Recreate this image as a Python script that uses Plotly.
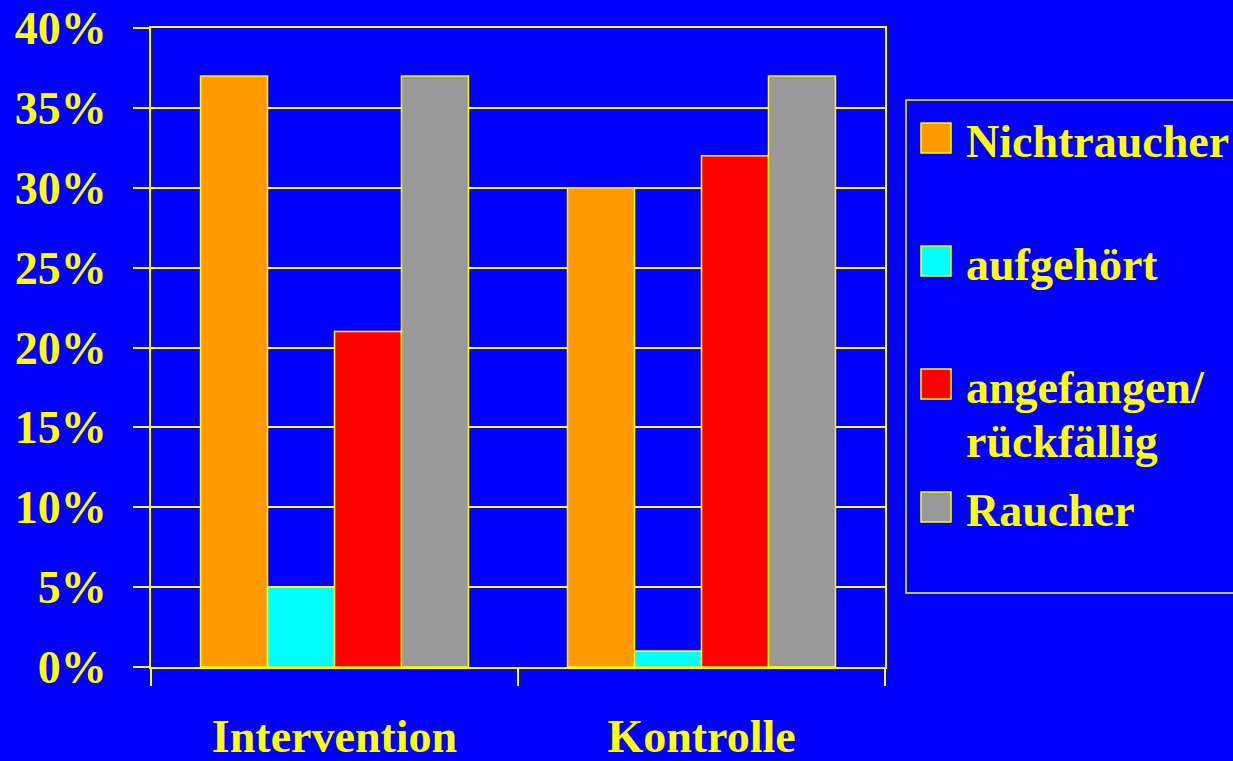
import plotly.graph_objects as go

categories = ["Intervention", "Kontrolle"]
series_names = ["Nichtraucher", "aufgehört", "angefangen/<br>rückfällig", "Raucher"]
series_values = [
    [37, 30],
    [5, 1],
    [21, 32],
    [37, 37],
]
series_colors = ["#FF9900", "#00FFFF", "#FF0000", "#999999"]
y_ticks = [0, 5, 10, 15, 20, 25, 30, 35, 40]
y_tick_labels = [f"{v}%" for v in y_ticks]

BLUE = "#0000FF"
YEL = "#FFFF00"
FONT = "Liberation Serif"

W, H = 1233, 761
L, R, T, B = 151, 348, 28, 94
PW, PH = W - L - R, H - T - B


def px(x):
    return (x - L) / PW


def py(y):
    return (H - B - y) / PH


fig = go.Figure()
for name, vals, col in zip(series_names, series_values, series_colors):
    fig.add_trace(go.Bar(
        x=categories, y=vals, name=name,
        marker=dict(color=col, line=dict(color=YEL, width=1.5)),
        showlegend=False,
    ))

fig.update_layout(
    width=W, height=H,
    margin=dict(l=L, r=R, t=T, b=B, pad=0, autoexpand=False),
    paper_bgcolor=BLUE, plot_bgcolor=BLUE,
    barmode="group", bargap=0.27, bargroupgap=0,
    font=dict(family=FONT, color=YEL, size=46, weight="bold"),
)
fig.update_yaxes(
    range=[0, 40], tickvals=y_ticks, ticktext=y_tick_labels,
    showgrid=True, gridcolor=YEL, gridwidth=1.5,
    showline=True, linecolor=YEL, linewidth=2, mirror=True,
    ticks="outside", ticklen=16, tickcolor=YEL, tickwidth=1.5,
    ticklabelstandoff=17, automargin=False,
    tickfont=dict(family=FONT, size=46, color=YEL, weight="bold"),
    zeroline=False, fixedrange=True,
)
fig.update_xaxes(
    showline=True, linecolor=YEL, linewidth=2, mirror=True,
    ticks="outside", tickson="boundaries", ticklen=17, tickcolor=YEL, tickwidth=1.5,
    ticklabelstandoff=28, automargin=False,
    tickfont=dict(family=FONT, size=46, color=YEL, weight="bold"),
    showgrid=False, fixedrange=True,
)

# Custom legend box
fig.add_shape(type="rect", xref="paper", yref="paper",
              x0=px(906), x1=px(1240), y0=py(593), y1=py(100),
              line=dict(color=YEL, width=1.5), fillcolor="rgba(0,0,0,0)")
sq_centers = [138, 261, 384, 507]
for i, (name, col) in enumerate(zip(series_names, series_colors)):
    cy = sq_centers[i]
    fig.add_shape(type="rect", xref="paper", yref="paper",
                  x0=px(921), x1=px(951), y0=py(cy + 15), y1=py(cy - 15),
                  line=dict(color=YEL, width=1.5), fillcolor=col)
    lines = name.split("<br>")
    for j, ln in enumerate(lines):
        fig.add_annotation(xref="paper", yref="paper", x=px(964), y=py(cy + 3 + 54 * j),
                           text=ln, showarrow=False, xanchor="left", yanchor="middle",
                           font=dict(family=FONT, size=46, color=YEL, weight="bold"))

fig.write_html("out.html")
